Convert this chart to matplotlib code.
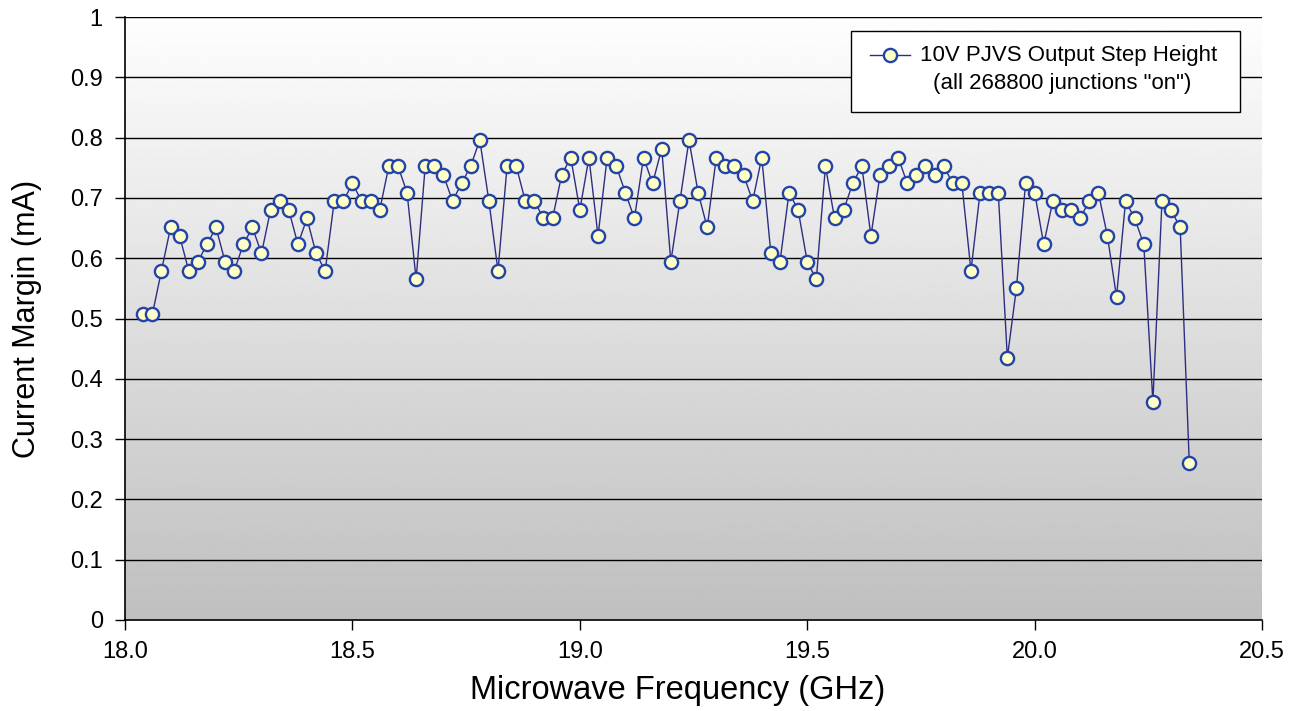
import numpy as np
import matplotlib
matplotlib.use('Agg')
from matplotlib import pyplot as plt
from matplotlib.patches import Rectangle

plt.rcParams['font.family'] = ['Liberation Sans', 'DejaVu Sans']

# microwave frequency (GHz), 0.02 GHz steps
freq = [18.04, 18.06, 18.08, 18.10, 18.12, 18.14, 18.16, 18.18, 18.20, 18.22,
        18.24, 18.26, 18.28, 18.30, 18.32, 18.34, 18.36, 18.38, 18.40, 18.42,
        18.44, 18.46, 18.48, 18.50, 18.52, 18.54, 18.56, 18.58, 18.60, 18.62,
        18.64, 18.66, 18.68, 18.70, 18.72, 18.74, 18.76, 18.78, 18.80, 18.82,
        18.84, 18.86, 18.88, 18.90, 18.92, 18.94, 18.96, 18.98, 19.00, 19.02,
        19.04, 19.06, 19.08, 19.10, 19.12, 19.14, 19.16, 19.18, 19.20, 19.22,
        19.24, 19.26, 19.28, 19.30, 19.32, 19.34, 19.36, 19.38, 19.40, 19.42,
        19.44, 19.46, 19.48, 19.50, 19.52, 19.54, 19.56, 19.58, 19.60, 19.62,
        19.64, 19.66, 19.68, 19.70, 19.72, 19.74, 19.76, 19.78, 19.80, 19.82,
        19.84, 19.86, 19.88, 19.90, 19.92, 19.94, 19.96, 19.98, 20.00, 20.02,
        20.04, 20.06, 20.08, 20.10, 20.12, 20.14, 20.16, 20.18, 20.20, 20.22,
        20.24, 20.26, 20.28, 20.30, 20.32, 20.34]

# current margin (mA)
margin = [0.507, 0.507, 0.579, 0.651, 0.637, 0.579, 0.594, 0.623, 0.651, 0.594,
          0.579, 0.623, 0.651, 0.608, 0.680, 0.695, 0.680, 0.623, 0.666, 0.608,
          0.579, 0.695, 0.695, 0.724, 0.695, 0.695, 0.680, 0.753, 0.753, 0.709,
          0.565, 0.753, 0.753, 0.738, 0.695, 0.724, 0.753, 0.796, 0.695, 0.579,
          0.753, 0.753, 0.695, 0.695, 0.666, 0.666, 0.738, 0.767, 0.680, 0.767,
          0.637, 0.767, 0.753, 0.709, 0.666, 0.767, 0.724, 0.782, 0.594, 0.695,
          0.796, 0.709, 0.651, 0.767, 0.753, 0.753, 0.738, 0.695, 0.767, 0.608,
          0.594, 0.709, 0.680, 0.594, 0.565, 0.753, 0.666, 0.680, 0.724, 0.753,
          0.637, 0.738, 0.753, 0.767, 0.724, 0.738, 0.753, 0.738, 0.753, 0.724,
          0.724, 0.579, 0.709, 0.709, 0.709, 0.435, 0.551, 0.724, 0.709, 0.623,
          0.695, 0.680, 0.680, 0.666, 0.695, 0.709, 0.637, 0.536, 0.695, 0.666,
          0.623, 0.362, 0.695, 0.680, 0.651, 0.261]

x_ticks = [18.0, 18.5, 19.0, 19.5, 20.0, 20.5]
y_ticks = [0, 0.1, 0.2, 0.3, 0.4, 0.5, 0.6, 0.7, 0.8, 0.9, 1]
y_labels = ['0', '0.1', '0.2', '0.3', '0.4', '0.5', '0.6', '0.7', '0.8', '0.9', '1']

legend_line1 = '10V PJVS Output Step Height'
legend_line2 = '(all 268800 junctions "on")'

line_color = '#2e2e80'
face_color = '#ffffc8'
edge_color = '#2244aa'

fig = plt.figure(figsize=(13, 7.11), dpi=100)
ax = fig.add_axes([0.0962, 0.128, 0.8746, 0.848])

# vertical gradient background, near white at top to grey at bottom
grad = np.linspace(0.75, 0.995, 256).reshape(-1, 1)
ax.imshow(grad, cmap='gray', vmin=0, vmax=1, origin='lower', aspect='auto',
          extent=[18.0, 20.5, 0, 1], zorder=0)

for yv in y_ticks[1:]:
    ax.axhline(yv, color='black', lw=1.0, zorder=1)

ax.plot(freq, margin, color=line_color, lw=1.0, marker='o', markersize=9.5,
        markerfacecolor=face_color, markeredgecolor=edge_color,
        markeredgewidth=1.7, zorder=3)

ax.set_xlim(18.0, 20.5)
ax.set_ylim(0, 1)
ax.set_xticks(x_ticks)
ax.set_xticklabels([f'{v:.1f}' for v in x_ticks])
ax.set_yticks(y_ticks)
ax.set_yticklabels(y_labels)
ax.tick_params(axis='both', labelsize=17, direction='out', length=7, width=1.0,
               colors='black')
ax.tick_params(axis='x', pad=8)
ax.tick_params(axis='y', pad=9)

for side in ['top', 'right']:
    ax.spines[side].set_visible(False)
for side in ['left', 'bottom']:
    ax.spines[side].set_color('black')
    ax.spines[side].set_linewidth(1.2)

ax.set_xlabel('Microwave Frequency (GHz)', fontsize=23.5, labelpad=9)
ax.xaxis.label.set_x(0.486)
ax.set_ylabel('Current Margin (mA)', fontsize=22, labelpad=20)

# legend box drawn by hand so the second line sits centred under the first
ax.add_patch(Rectangle((0.6385, 0.8425), 0.3422, 0.1343, transform=ax.transAxes,
                       facecolor='white', edgecolor='black', lw=1.0, zorder=5))
ax.plot([0.6552, 0.6904], [0.937, 0.937], transform=ax.transAxes,
        color=line_color, lw=1.0, zorder=6)
ax.plot([0.6728], [0.937], transform=ax.transAxes, marker='o', markersize=9.5,
        markerfacecolor=face_color, markeredgecolor=edge_color,
        markeredgewidth=1.7, linestyle='none', zorder=7)
ax.text(0.6990, 0.937, legend_line1, transform=ax.transAxes, fontsize=16,
        ha='left', va='center', zorder=7)
ax.text(0.8240, 0.889, legend_line2, transform=ax.transAxes, fontsize=16,
        ha='center', va='center', zorder=7)

plt.savefig('out.png', dpi=100)
plt.close()
